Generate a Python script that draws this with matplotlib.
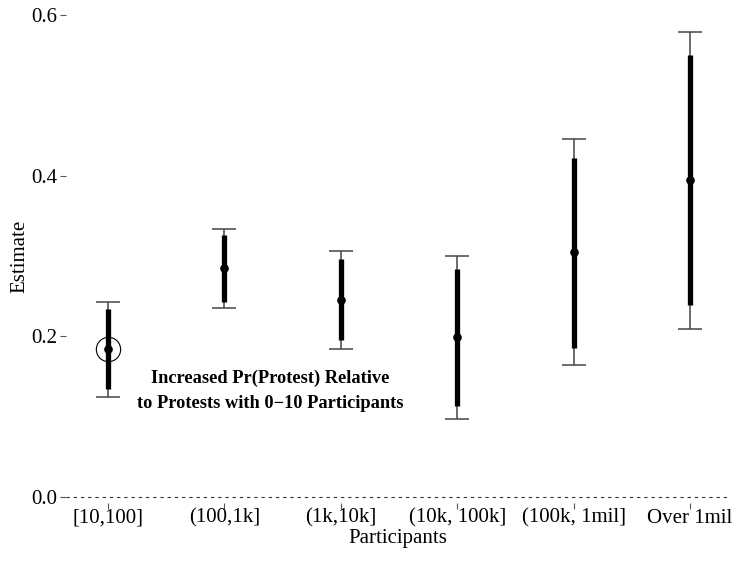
import matplotlib
matplotlib.use("Agg")
import matplotlib.pyplot as plt

categories = ["[10,100]", "(100,1k]", "(1k,10k]", "(10k, 100k]", "(100k, 1mil]", "Over 1mil"]
estimate = [0.184, 0.285, 0.245, 0.199, 0.305, 0.395]
ci95_low = [0.125, 0.235, 0.184, 0.097, 0.164, 0.209]
ci95_high = [0.243, 0.334, 0.306, 0.300, 0.446, 0.579]
ci90_low = [0.134, 0.243, 0.196, 0.113, 0.186, 0.239]
ci90_high = [0.234, 0.326, 0.296, 0.284, 0.422, 0.550]
yticks = [0.0, 0.2, 0.4, 0.6]
ytick_labels = ["0.0", "0.2", "0.4", "0.6"]

plt.rcParams['font.family'] = ['Liberation Serif', 'DejaVu Serif']

W, H = 735, 566
fig = plt.figure(figsize=(W / 100, H / 100), dpi=100)
left, right, top, bottom = 66, 730, 10, 503
ax = fig.add_axes([left / W, 1 - bottom / H, (right - left) / W, (bottom - top) / H])

x = list(range(1, len(categories) + 1))

# thin 95% intervals with caps
err_lo = [e - l for e, l in zip(estimate, ci95_low)]
err_hi = [h - e for e, h in zip(estimate, ci95_high)]
ax.errorbar(x, estimate, yerr=[err_lo, err_hi], fmt='none', ecolor='#444444',
            elinewidth=1.1, capsize=8.3, capthick=1.1, zorder=2)
# thick 90% intervals
ax.vlines(x, ci90_low, ci90_high, color='black', linewidth=3.8, zorder=3)
# points
ax.plot(x, estimate, 'o', color='black', markersize=5.2, zorder=4)
# highlight circle on first category
ax.plot([x[0]], [estimate[0]], 'o', markerfacecolor='none', markeredgecolor='black',
        markersize=17.5, markeredgewidth=0.8, zorder=5)

ax.axhline(0, color='#333333', linestyle=(0, (3.0, 3.5)), linewidth=0.8, zorder=1)

ax.text(2.39, 0.132, "Increased Pr(Protest) Relative\nto Protests with 0\u221210 Participants",
        ha='center', va='center', fontsize=13.2, fontweight='bold', linespacing=1.65)

ax.set_xlim(0.639, 6.344)
ax.set_ylim(-0.0075, 0.6062)
ax.set_xticks(x)
ax.set_xticklabels(categories)
ax.set_yticks(yticks)
ax.set_yticklabels(ytick_labels)
for s in ax.spines.values():
    s.set_visible(False)
ax.tick_params(axis='both', labelsize=15, color='#555555', width=0.8, length=4)
ax.tick_params(axis='x', pad=0)
ax.tick_params(axis='y', pad=2)
ax.set_xlabel("Participants", fontsize=15, labelpad=0.5)
ax.set_ylabel("Estimate", fontsize=15, labelpad=1.5)

fig.savefig("out.png", dpi=100)
